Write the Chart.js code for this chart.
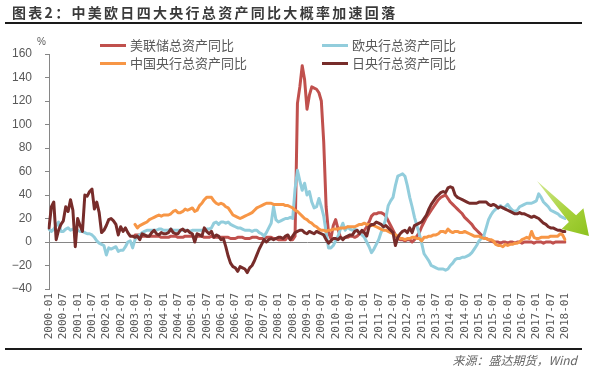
<!DOCTYPE html>
<html><head><meta charset="utf-8">
<script src="https://cdn.jsdelivr.net/npm/chart.js@4.4.1/dist/chart.umd.min.js"></script>
<style>
html,body{margin:0;padding:0;background:#fff;}
#wrap{position:relative;width:590px;height:371px;overflow:hidden;background:#fff;font-family:"Noto Sans CJK SC","Noto Sans",sans-serif;}
#c{position:absolute;left:0;top:0;}
.title{position:absolute;left:12px;top:2px;font-size:14px;font-weight:700;letter-spacing:2.3px;color:#3a3a3a;white-space:nowrap;line-height:20px;}
.rule{position:absolute;left:5px;width:577px;height:2px;background:#1a1a1a;}
.lgline{position:absolute;width:26px;height:3px;}
.lgtxt{position:absolute;font-size:13px;line-height:16px;color:#595959;white-space:nowrap;}
.unit{position:absolute;left:37px;top:36px;font-size:10px;color:#595959;font-family:"Liberation Sans",sans-serif;}
.src{position:absolute;right:13px;top:352px;font-size:12px;line-height:16px;font-style:italic;color:#666;white-space:nowrap;}
svg{position:absolute;left:0;top:0;}
</style>
</head>
<body>
<div id="wrap">
  <canvas id="c" width="590" height="371"></canvas>
  <div class="title">图表2：中美欧日四大央行总资产同比大概率加速回落</div>
  <div class="rule" style="top:22px"></div>
  <div class="rule" style="top:348px"></div>
  <div class="unit">%</div>
  <div id="legend"></div>
  <div class="src">来源：盛达期货，Wind</div>
  <svg width="590" height="371">
    <defs>
      <linearGradient id="g" gradientUnits="userSpaceOnUse" x1="537" y1="181" x2="589" y2="236">
        <stop offset="0" stop-color="#d2e891"/>
        <stop offset="0.55" stop-color="#a8d23c"/>
        <stop offset="1" stop-color="#8dc21f"/>
      </linearGradient>
    </defs>
    <polygon points="537,181 576.1,215.2 583.4,208.3 589,236 561.6,228.9 568.9,222" fill="url(#g)"/>
  </svg>
</div>
<script>
// ---- data ----
const seriesNames = ['美联储总资产同比','欧央行总资产同比','中国央行总资产同比','日央行总资产同比'];
const tickLabels = ['2000-01','2000-07','2001-01','2001-07','2002-01','2002-07','2003-01','2003-07','2004-01','2004-07','2005-01','2005-07','2006-01','2006-07','2007-01','2007-07','2008-01','2008-07','2009-01','2009-07','2010-01','2010-07','2011-01','2011-07','2012-01','2012-07','2013-01','2013-07','2014-01','2014-07','2015-01','2015-07','2016-01','2016-07','2017-01','2017-07','2018-01'];
const yTicks = [-40,-20,0,20,40,60,80,100,120,140,160];

// monthly categories 2000-01 .. 2018-01
const months = [];
for (let y = 2000; y <= 2018; y++) {
  for (let m = 1; m <= 12; m++) {
    if (y === 2018 && m > 1) break;
    months.push(y + '-' + String(m).padStart(2, '0'));
  }
}

const fedStart = '2003-01';
const fed = [6,6,6,5,
 5,5,5,5,5,5,5,4,4,4,
 4,5,5,5,4,4,4,5,5,5,
 5,4,5,5,5,4,4,4,5,4,
 4,4,4,4,4,4,3,3,3,4,
 4,4,3,3,3,4,4,4,3,3,
 3,4,4,4,3,3,2,2,2,2,
 5,2,2,5,118,132,150,138,113,125,
 132,131,130,127,120,85,30,8,3,14,
 19,11,4,3,4,4,5,5,4,5,
 7,8,10,13,17,22,24,24,25,25,
 24,22,18,14,10,6,3,2,2,1,
 2,2,0,2,5,8,13,17,21,24,
 27,30,33,36,38,39,40,37,34,32,
 30,28,26,24,21,19,17,15,12,10,
 8,6,4,3,2,1,0,0,0,-1,
 0,0,-1,0,0,-1,0,0,-1,0,
 0,0,0,-1,0,0,0,-1,0,0,
 0,-1,0,0,0,0,0];

const ecbStart = '2000-01';
const ecb = [11,9,11,14,17,9,9,11,12,10,
 11,11,10,9,9,8,7,7,6,4,
 1,-1,-2,-3,-11,-5,-6,-5,-4,-8,
 -7,-7,-4,0,1,-5,2,5,6,8,
 9,10,10,10,10,10,11,11,10,10,
 10,11,10,10,10,10,10,10,10,9,
 10,10,10,10,10,10,11,11,12,16,
 17,15,17,17,16,17,15,14,13,12,
 12,11,10,10,10,9,10,10,8,7,
 5,8,12,16,30,19,17,18,19,20,
 20,21,20,45,61,52,44,50,40,43,
 34,29,30,37,30,22,8,-5,-5,-3,
 1,5,11,16,10,13,11,10,11,10,
 8,6,4,0,-4,-9,-6,-2,2,8,
 13,20,31,35,38,48,56,57,58,56,
 48,38,30,21,14,7,-1,-10,-13,-16,
 -20,-21,-22,-23,-23,-23,-24,-23,-20,-18,
 -15,-14,-14,-13,-13,-12,-11,-9,-6,-3,
 1,3,5,12,19,23,26,28,29,31,
 29,30,32,29,27,26,27,30,31,32,
 33,33,33,34,35,41,38,34,32,30,
 27,26,25,24,22,21,20];

const cnStart = '2003-01';
const cn = [15,12,14,15,
 16,17,19,20,21,22,23,22,23,23,
 23,24,26,27,25,25,26,28,27,28,
 29,26,27,31,33,36,38,38,38,35,
 33,32,33,32,30,29,26,23,22,21,
 20,21,22,23,24,25,27,29,30,31,
 32,33,33,33,32,32,32,32,32,31,
 31,30,29,27,26,24,22,20,19,17,
 16,14,13,11,10,10,9,10,10,11,
 11,11,12,12,12,13,13,13,13,14,
 15,15,16,15,15,14,14,13,12,11,
 10,10,9,8,7,6,5,3,3,2,
 3,3,4,4,3,3,1,4,4,5,
 5,6,6,7,9,9,8,11,9,8,
 9,9,8,8,9,8,7,6,5,5,
 5,4,3,3,2,2,1,-2,-3,-3,
 -4,-2,-3,-2,-2,-1,-1,0,2,3,
 4,3,9,4,3,3,4,4,4,4,
 5,5,5,5,7,6,2];

const jpStart = '2000-01';
const jp = [12,30,34,2,10,15,18,30,26,36,
 27,-4,20,14,9,40,39,43,45,28,
 34,25,8,10,14,19,20,18,15,6,
 13,9,12,8,5,5,4,5,2,7,
 6,5,5,8,10,7,6,8,7,7,
 8,11,8,7,7,10,11,9,10,8,
 7,0,7,6,5,12,9,7,9,4,
 6,5,2,3,-4,-12,-18,-21,-22,-25,
 -21,-22,-23,-26,-22,-20,-16,-11,-6,-2,
 2,0,2,3,2,3,4,4,3,5,
 6,2,5,8,9,10,10,8,7,9,
 8,7,9,8,7,6,2,-1,1,3,
 3,2,4,2,4,5,6,6,9,10,
 7,10,8,5,13,15,15,17,16,15,
 13,14,12,10,8,-3,4,7,9,10,
 8,12,8,14,15,16,17,20,23,28,
 32,35,38,40,42,43,42,46,47,46,
 40,38,37,36,35,34,33,33,33,33,
 34,34,34,34,32,31,32,31,29,30,
 29,28,27,26,25,24,24,25,24,24,
 23,22,21,22,21,20,18,16,15,13,
 12,12,11,10,10,9,9];

const colors = ['#C0504D','#92CDDC','#F79646','#772C2A'];

function pad(start, vals) {
  const i = months.indexOf(start);
  const out = [];
  for (let k = 0; k < i; k++) out.push(null);
  return out.concat(vals);
}

// ---- legend (HTML text) ----
const lg = document.getElementById('legend');
const lgPos = [[100,45],[322,45],[100,63],[322,63]];
seriesNames.forEach((n, i) => {
  const [x, y] = lgPos[i];
  const l = document.createElement('div');
  l.className = 'lgline'; l.style.left = x + 'px'; l.style.top = (y - 1.5) + 'px'; l.style.background = colors[i];
  const t = document.createElement('div');
  t.className = 'lgtxt'; t.style.left = (x + 30) + 'px'; t.style.top = (y - 8) + 'px'; t.textContent = n;
  lg.appendChild(l); lg.appendChild(t);
});

// ---- chart ----
new Chart(document.getElementById('c'), {
  type: 'line',
  data: {
    labels: months,
    datasets: [
      {label: seriesNames[0], data: pad(fedStart, fed), borderColor: colors[0], order: 4},
      {label: seriesNames[1], data: pad(ecbStart, ecb), borderColor: colors[1], order: 3},
      {label: seriesNames[2], data: pad(cnStart, cn), borderColor: colors[2], order: 2},
      {label: seriesNames[3], data: pad(jpStart, jp), borderColor: colors[3], order: 1}
    ]
  },
  options: {
    responsive: false, animation: false, devicePixelRatio: 1,
    layout: {padding: {top: 54, right: 25, bottom: 0, left: 0}},
    plugins: {legend: {display: false}, tooltip: {enabled: false}},
    elements: {
      point: {radius: 0, hoverRadius: 0},
      line: {borderWidth: 3, tension: 0, borderJoinStyle: 'round', borderCapStyle: 'round', fill: false}
    },
    scales: {
      x: {
        type: 'category',
        grid: {display: false, drawTicks: false},
        border: {display: false},
        ticks: {
          autoSkip: false, maxRotation: 90, minRotation: 90, padding: 4,
          color: '#595959', font: {family: 'DejaVu Sans Mono', size: 11},
          callback: function (v) { const l = this.getLabelForValue(v); return tickLabels.includes(l) ? l : null; }
        },
        afterFit: s => { s.height = 82; }
      },
      y: {
        min: yTicks[0], max: yTicks[yTicks.length - 1],
        afterBuildTicks: s => { s.ticks = yTicks.map(v => ({value: v})); },
        ticks: {
          padding: 13, color: '#595959', font: {family: 'Liberation Sans', size: 12},
          callback: v => String(v).replace('-', '−')
        },
        grid: {
          color: c => (c.tick && c.tick.value === 0) ? '#868686' : 'rgba(0,0,0,0)',
          lineWidth: 1, drawTicks: true, tickLength: 4, tickColor: '#868686'
        },
        border: {display: true, color: '#868686', width: 1},
        afterFit: s => { s.width = 49; }
      }
    }
  }
});
</script>
</body></html>
